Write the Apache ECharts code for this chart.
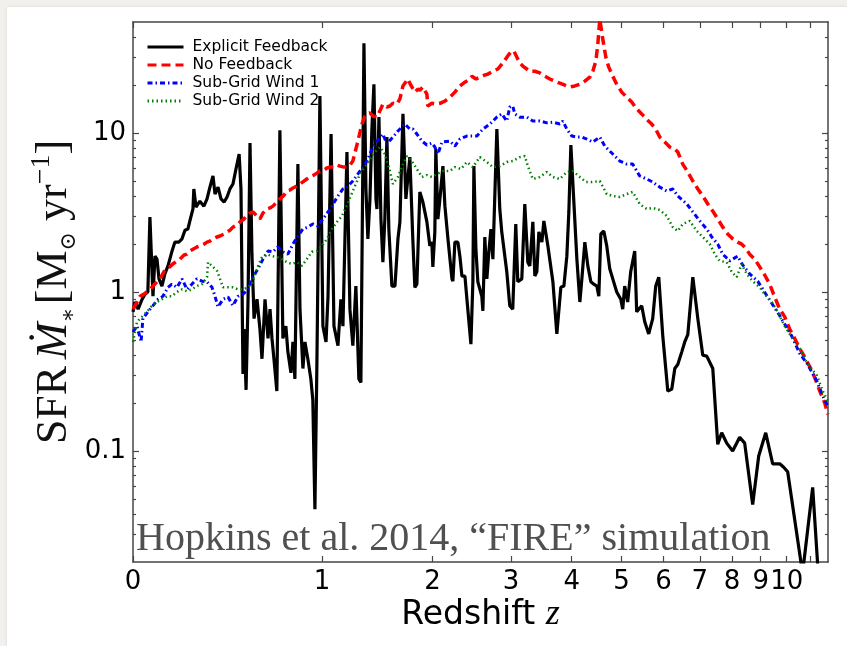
<!DOCTYPE html>
<html>
<head>
<meta charset="utf-8">
<script src="https://cdn.jsdelivr.net/npm/echarts@6/dist/echarts.min.js"></script>
<style>
  html, body { margin: 0; padding: 0; width: 847px; height: 646px; background: #f2f0ed; overflow: hidden; }
  #sheet { position: absolute; left: 7px; top: 7px; width: 840px; height: 639px; background: #fff; box-shadow: 0 0 3px rgba(0,0,0,0.10); }
  #chart { position: absolute; left: 0; top: 0; width: 847px; height: 646px; }
</style>
</head>
<body>
<div id="sheet"></div>
<div id="chart"></div>
<script>
// Star formation history of one halo under four feedback models.
// x: redshift z (drawn on a log(1+z) axis), y: SFR in Msun/yr (log axis).

const seriesNames = ['Explicit Feedback', 'No Feedback', 'Sub-Grid Wind 1', 'Sub-Grid Wind 2'];

const zExplicit = [
  0, 0.007, 0.019, 0.034, 0.045, 0.056, 0.064, 0.076, 0.084, 0.092,
  0.100, 0.112, 0.124, 0.137, 0.153, 0.166, 0.183, 0.197, 0.210, 0.223,
  0.232, 0.246, 0.250, 0.260, 0.278, 0.297, 0.312, 0.326, 0.341, 0.351,
  0.366, 0.381, 0.397, 0.412, 0.427, 0.443, 0.459, 0.476, 0.486, 0.497,
  0.503, 0.514, 0.525, 0.536, 0.547, 0.559, 0.576, 0.593, 0.605, 0.623,
  0.641, 0.653, 0.665, 0.677, 0.695, 0.714, 0.733, 0.752, 0.765, 0.785,
  0.798, 0.811, 0.831, 0.845, 0.865, 0.879, 0.899, 0.920, 0.934, 0.949,
  0.963, 0.985, 1.007, 1.030, 1.045, 1.068, 1.090, 1.121, 1.144, 1.160,
  1.192, 1.216, 1.240, 1.265, 1.290, 1.307, 1.333, 1.350, 1.367, 1.385,
  1.402, 1.420, 1.438, 1.447, 1.465, 1.483, 1.501, 1.519, 1.538, 1.556,
  1.585, 1.614, 1.643, 1.662, 1.692, 1.721, 1.761, 1.791, 1.812, 1.833,
  1.864, 1.896, 1.917, 1.939, 1.971, 1.993, 2.004, 2.026, 2.037, 2.060,
  2.083, 2.117, 2.140, 2.175, 2.222, 2.233, 2.257, 2.293, 2.317, 2.342,
  2.379, 2.404, 2.454, 2.479, 2.492, 2.518, 2.543, 2.595, 2.609, 2.635,
  2.662, 2.689, 2.717, 2.744, 2.799, 2.840, 2.868, 2.940, 2.983, 3.027,
  3.072, 3.102, 3.163, 3.209, 3.256, 3.287, 3.335, 3.367, 3.399, 3.432,
  3.481, 3.514, 3.581, 3.666, 3.734, 3.804, 3.858, 3.911, 3.947, 3.984,
  4.039, 4.095, 4.151, 4.189, 4.246, 4.304, 4.363, 4.422, 4.482, 4.522,
  4.563, 4.624, 4.685, 4.748, 4.812, 4.897, 4.985, 5.028, 5.072, 5.139,
  5.207, 5.299, 5.345, 5.463, 5.535, 5.631, 5.729, 5.804, 5.880, 5.982,
  6.112, 6.217, 6.297, 6.377, 6.486, 6.568, 6.653, 6.796, 6.940, 7.086,
  7.205, 7.388, 7.542, 7.667, 7.828, 8.023, 8.258, 8.429, 8.710, 8.927,
  9.186, 9.450, 9.723, 9.879, 10.04, 10.66, 11.10, 11.42
];
const sfrExplicit = [
  0.75, 0.865, 0.78, 0.90, 0.97, 1.0, 2.96, 0.94, 1.68, 1.61,
  1.21, 1.09, 1.30, 1.46, 1.79, 2.06, 2.06, 2.16, 2.45, 2.49,
  2.80, 3.33, 4.45, 3.42, 3.73, 3.47, 3.85, 4.57, 5.37, 4.13,
  4.57, 3.85, 3.68, 3.96, 4.45, 4.78, 5.94, 7.38, 4.45, 0.305,
  0.585, 0.242, 0.90, 8.65, 1.73, 0.68, 0.90, 0.585, 0.38, 0.90,
  0.51, 0.78, 0.51, 0.38, 0.238, 10.4, 0.51, 0.61, 0.42, 0.31,
  0.485, 0.284, 6.38, 0.78, 0.33, 0.485, 0.38, 0.284, 0.21, 0.043,
  0.34, 17.1, 0.61, 0.485, 0.94, 9.86, 0.61, 0.46, 0.90, 0.61,
  7.60, 0.78, 0.46, 1.09, 0.284, 0.27, 36.8, 4.45, 2.16, 3.85,
  10.6, 20.3, 3.85, 3.33, 12.6, 2.88, 1.54, 2.88, 9.44, 2.49,
  1.09, 1.09, 2.16, 2.76, 13.2, 3.85, 7.06, 2.16, 1.07, 1.12,
  4.26, 3.68, 3.73, 2.76, 1.95, 2.06, 1.44, 2.39, 7.93, 2.88,
  3.85, 6.20, 3.47, 2.16, 1.21, 1.17, 2.06, 2.06, 1.68, 1.26,
  1.26, 0.90, 0.47, 1.16, 6.20, 1.86, 1.16, 0.94, 0.76, 2.22,
  1.21, 1.79, 2.49, 1.61, 10.6, 3.33, 2.39, 1.34, 0.82, 0.78,
  2.68, 1.16, 1.21, 3.58, 1.54, 1.46, 2.76, 1.26, 1.34, 2.39,
  2.06, 2.80, 1.95, 1.16, 0.545, 1.07, 1.09, 1.68, 3.19, 8.41,
  3.68, 1.61, 0.865, 1.21, 2.06, 1.46, 1.16, 1.12, 1.09, 0.94,
  2.32, 2.42, 1.95, 1.40, 1.21, 1.0, 0.90, 0.78, 1.09, 0.865,
  1.34, 1.81, 0.75, 0.82, 0.65, 0.545, 0.68, 1.09, 1.24, 0.53,
  0.238, 0.245, 0.33, 0.35, 0.42, 0.485, 0.54, 1.24, 0.68, 0.40,
  0.395, 0.33, 0.11, 0.13, 0.112, 0.10, 0.122, 0.112, 0.046, 0.093,
  0.13, 0.083, 0.083, 0.079, 0.074, 0.017, 0.059, 0.012
];

const zNoFeedback = [
  0, 0.015, 0.026, 0.041, 0.052, 0.064, 0.076, 0.092, 0.104, 0.120,
  0.132, 0.145, 0.157, 0.175, 0.188, 0.206, 0.219, 0.232, 0.246, 0.264,
  0.278, 0.297, 0.312, 0.326, 0.341, 0.361, 0.376, 0.397, 0.412, 0.427,
  0.443, 0.465, 0.481, 0.503, 0.519, 0.536, 0.553, 0.576, 0.593, 0.611,
  0.635, 0.653, 0.671, 0.695, 0.714, 0.740, 0.759, 0.778, 0.798, 0.825,
  0.845, 0.872, 0.892, 0.913, 0.941, 0.963, 0.985, 1.015, 1.037, 1.060,
  1.090, 1.113, 1.136, 1.168, 1.192, 1.216, 1.240, 1.265, 1.282, 1.299,
  1.316, 1.341, 1.359, 1.385, 1.411, 1.447, 1.474, 1.501, 1.538, 1.566,
  1.594, 1.633, 1.662, 1.692, 1.711, 1.741, 1.771, 1.791, 1.812, 1.843,
  1.864, 1.896, 1.917, 1.939, 1.949, 1.993, 2.037, 2.083, 2.140, 2.198,
  2.257, 2.317, 2.379, 2.441, 2.467, 2.518, 2.569, 2.635, 2.676, 2.744,
  2.812, 2.883, 2.954, 2.998, 3.042, 3.087, 3.132, 3.178, 3.240, 3.287,
  3.367, 3.448, 3.531, 3.614, 3.700, 3.786, 3.876, 3.965, 4.057, 4.151,
  4.246, 4.343, 4.402, 4.462, 4.502, 4.542, 4.603, 4.665, 4.727, 4.812,
  4.897, 5.007, 5.117, 5.230, 5.345, 5.463, 5.583, 5.704, 5.804, 5.905,
  6.034, 6.164, 6.297, 6.377, 6.513, 6.653, 6.796, 6.940, 7.086, 7.236,
  7.388, 7.542, 7.700, 7.860, 8.023, 8.190, 8.326, 8.464, 8.603, 8.782,
  8.963, 9.148, 9.335, 9.527, 9.723, 9.918, 10.12, 10.33, 10.54, 10.75,
  10.97, 11.19, 11.42, 11.65, 11.79
];
const sfrNoFeedback = [
  0.78, 0.865, 0.94, 0.97, 1.0, 1.04, 1.09, 1.16, 1.21, 1.34,
  1.40, 1.44, 1.50, 1.57, 1.61, 1.71, 1.73, 1.81, 1.86, 1.92,
  1.95, 2.00, 2.06, 2.09, 2.16, 2.22, 2.25, 2.32, 2.39, 2.45,
  2.56, 2.64, 2.76, 2.88, 3.05, 3.14, 3.19, 3.01, 2.88, 3.14,
  3.33, 3.38, 3.47, 3.68, 3.85, 4.07, 4.32, 4.38, 4.51, 4.64,
  4.78, 4.99, 5.14, 5.29, 5.44, 5.60, 5.77, 5.85, 6.03, 6.11,
  6.11, 6.29, 6.20, 6.11, 6.11, 6.29, 6.67, 7.93, 8.91, 10.1,
  11.4, 12.8, 13.2, 13.4, 12.8, 12.6, 13.8, 15.2, 14.6, 14.8,
  15.4, 15.2, 16.4, 19.8, 20.3, 21.9, 20.0, 19.5, 18.1, 18.9,
  18.6, 19.5, 19.8, 17.6, 14.8, 15.4, 15.2, 15.4, 15.9, 16.8,
  18.1, 19.8, 20.9, 21.9, 22.8, 21.9, 22.5, 23.2, 23.5, 24.5,
  25.3, 27.6, 30.6, 32.3, 32.9, 30.1, 27.6, 26.4, 25.3, 24.5,
  24.5, 23.9, 22.8, 21.9, 21.2, 20.6, 20.0, 19.5, 19.8, 20.3,
  21.2, 22.5, 24.5, 28.4, 36.3, 52.1, 39.0, 30.1, 26.0, 22.8,
  20.3, 18.1, 16.8, 15.7, 14.2, 13.2, 12.2, 11.4, 10.6, 9.44,
  8.78, 8.17, 7.93, 7.60, 6.38, 5.69, 4.99, 4.45, 4.02, 3.58,
  3.23, 2.88, 2.56, 2.32, 2.16, 2.06, 2.00, 1.89, 1.73, 1.61,
  1.44, 1.28, 1.12, 0.93, 0.78, 0.70, 0.585, 0.51, 0.44, 0.39,
  0.34, 0.29, 0.238, 0.20, 0.17
];

const zWind1 = [
  0, 0.015, 0.030, 0.037, 0.056, 0.076, 0.096, 0.116, 0.137, 0.153,
  0.175, 0.197, 0.219, 0.241, 0.264, 0.288, 0.312, 0.336, 0.351, 0.366,
  0.391, 0.417, 0.443, 0.470, 0.497, 0.525, 0.553, 0.582, 0.611, 0.641,
  0.671, 0.701, 0.733, 0.765, 0.798, 0.831, 0.865, 0.899, 0.934, 0.970,
  1.007, 1.045, 1.083, 1.121, 1.160, 1.192, 1.240, 1.299, 1.359, 1.411,
  1.447, 1.501, 1.538, 1.594, 1.643, 1.711, 1.761, 1.791, 1.833, 1.886,
  1.939, 1.993, 2.026, 2.060, 2.106, 2.198, 2.257, 2.317, 2.404, 2.531,
  2.609, 2.703, 2.799, 2.868, 2.940, 2.983, 3.027, 3.057, 3.132, 3.240,
  3.335, 3.448, 3.564, 3.666, 3.786, 3.840, 3.911, 4.002, 4.095, 4.189,
  4.285, 4.402, 4.542, 4.644, 4.812, 4.963, 5.117, 5.253, 5.415, 5.583,
  5.729, 5.905, 6.086, 6.244, 6.377, 6.625, 6.796, 6.998, 7.205, 7.357,
  7.542, 7.700, 7.924, 8.190, 8.360, 8.603, 8.890, 9.261, 9.723, 10.20,
  10.54, 10.88, 11.28, 11.56, 11.79
];
const sfrWind1 = [
  0.56, 0.61, 0.485, 0.68, 0.75, 0.82, 0.90, 0.94, 1.07, 1.12,
  1.07, 1.21, 1.04, 1.12, 1.21, 1.17, 1.16, 1.07, 0.94, 0.805,
  0.90, 0.93, 0.82, 0.94, 0.97, 1.04, 1.24, 1.40, 1.61, 1.81,
  1.79, 1.92, 1.79, 1.73, 2.00, 2.25, 2.49, 2.56, 2.68, 2.60,
  2.88, 3.19, 3.58, 4.02, 4.45, 4.57, 4.99, 5.77, 6.67, 8.17,
  8.91, 9.86, 8.53, 9.44, 10.3, 11.4, 10.6, 10.6, 9.86, 8.91,
  8.41, 8.65, 8.17, 7.38, 8.78, 8.91, 8.28, 9.17, 9.58, 9.58,
  10.6, 11.4, 12.6, 13.2, 11.9, 14.6, 14.8, 13.2, 12.6, 12.6,
  11.9, 11.9, 11.6, 11.7, 11.4, 11.9, 10.6, 9.58, 9.44, 9.44,
  9.17, 8.78, 9.44, 8.28, 7.38, 6.67, 6.38, 6.38, 5.37, 5.14,
  4.92, 4.57, 4.32, 4.45, 4.02, 3.58, 3.19, 2.80, 2.49, 2.22,
  2.00, 1.73, 1.57, 1.68, 1.48, 1.30, 1.17, 0.93, 0.71, 0.53,
  0.41, 0.35, 0.276, 0.222, 0.19
];

const zWind2 = [
  0, 0.015, 0.034, 0.052, 0.072, 0.092, 0.112, 0.132, 0.153, 0.175,
  0.197, 0.219, 0.241, 0.264, 0.288, 0.312, 0.317, 0.336, 0.361, 0.376,
  0.391, 0.417, 0.443, 0.470, 0.497, 0.525, 0.547, 0.576, 0.605, 0.635,
  0.665, 0.695, 0.727, 0.759, 0.791, 0.825, 0.858, 0.892, 0.927, 0.963,
  1.000, 1.037, 1.075, 1.113, 1.152, 1.192, 1.240, 1.299, 1.359, 1.411,
  1.474, 1.519, 1.566, 1.594, 1.643, 1.692, 1.731, 1.781, 1.833, 1.886,
  1.939, 1.993, 2.048, 2.117, 2.198, 2.257, 2.330, 2.404, 2.479, 2.569,
  2.662, 2.744, 2.840, 2.940, 3.027, 3.132, 3.209, 3.256, 3.335, 3.448,
  3.564, 3.666, 3.786, 3.911, 4.020, 4.151, 4.266, 4.383, 4.542, 4.685,
  4.812, 4.963, 5.117, 5.253, 5.415, 5.583, 5.729, 5.905, 6.086, 6.244,
  6.377, 6.513, 6.710, 6.911, 7.086, 7.296, 7.450, 7.604, 7.828, 7.990,
  8.157, 8.326, 8.498, 8.710, 8.963, 9.148, 9.412, 9.645, 9.918, 10.24,
  10.54, 10.88, 11.28, 11.56, 11.79
];
const sfrWind2 = [
  0.485, 0.65, 0.70, 0.75, 0.82, 0.865, 0.90, 0.94, 0.94, 1.0,
  1.04, 1.01, 1.04, 1.09, 1.12, 1.24, 1.54, 1.46, 1.36, 1.21,
  1.07, 1.07, 1.07, 1.04, 1.04, 1.07, 1.12, 1.40, 1.66, 1.73,
  1.68, 1.66, 1.61, 1.54, 1.50, 1.54, 1.46, 1.61, 1.79, 1.81,
  1.95, 2.16, 2.49, 2.76, 3.01, 3.52, 4.32, 5.52, 6.38, 7.38,
  8.17, 7.38, 5.77, 4.78, 5.29, 6.38, 7.17, 6.67, 5.94, 5.29,
  5.44, 5.29, 5.52, 5.77, 5.77, 6.11, 5.94, 6.57, 6.11, 7.06,
  6.57, 6.11, 6.20, 6.57, 6.67, 7.06, 7.17, 6.20, 5.14, 5.29,
  5.69, 5.29, 5.14, 5.69, 5.77, 5.29, 4.92, 4.92, 4.99, 4.13,
  4.02, 3.96, 4.13, 4.26, 3.58, 3.33, 3.38, 3.28, 3.01, 2.56,
  2.42, 2.68, 2.80, 2.42, 2.22, 2.00, 1.73, 1.57, 1.54, 1.34,
  1.24, 1.50, 1.30, 1.17, 1.07, 0.97, 0.865, 0.75, 0.61, 0.51,
  0.44, 0.35, 0.30, 0.238, 0.206
];

// Axis ticks
const zTickValues = [0, 1, 2, 3, 4, 5, 6, 7, 8, 9, 10, 11];
const zTickLabels = ['0', '1', '2', '3', '4', '5', '6', '7', '8', '9', '10'];
const sfrMajorTicks = [0.1, 1, 10];
const sfrMajorLabels = ['0.1', '1', '10'];
const sfrMinorTicks = [0.03, 0.04, 0.05, 0.06, 0.07, 0.08, 0.09,
  0.2, 0.3, 0.4, 0.5, 0.6, 0.7, 0.8, 0.9,
  2, 3, 4, 5, 6, 7, 8, 9, 20, 30, 40];

const X_MAX = 12.8;   // upper end of the 1+z axis
const Y_MIN = 0.02, Y_MAX = 50;

const frameColor = '#464646';
const tickFont = { fontFamily: 'DejaVu Sans', fontSize: 26, color: '#000' };

function pairs(zs, vs) { return zs.map((z, i) => [1 + z, vs[i]]); }

function xAxisCfg(position, labelled) {
  return {
    type: 'log', logBase: 10, position: position, min: 1, max: X_MAX,
    axisLine: { show: true, onZero: false, lineStyle: { color: frameColor, width: 1.5 } },
    axisTick: { show: true, inside: true, length: 6, customValues: zTickValues.map(z => 1 + z),
      lineStyle: { color: frameColor, width: 1.2 } },
    axisLabel: { show: labelled, customValues: zTickLabels.map(t => 1 + Number(t)),
      formatter: v => zTickLabels[Math.round(v - 1)], margin: 7, ...tickFont },
    splitLine: { show: false }, minorTick: { show: false }, minorSplitLine: { show: false }
  };
}

function yAxisCfg(position, ticks, len, labelled, line) {
  return {
    type: 'log', logBase: 10, position: position, min: Y_MIN, max: Y_MAX,
    axisLine: { show: line, onZero: false, lineStyle: { color: frameColor, width: 1.5 } },
    axisTick: { show: true, inside: true, length: len, customValues: ticks,
      lineStyle: { color: frameColor, width: 1.2 } },
    axisLabel: { show: labelled, customValues: sfrMajorTicks,
      formatter: v => sfrMajorLabels[sfrMajorTicks.findIndex(t => Math.abs(t - v) / t < 1e-6)] || '',
      margin: 7, ...tickFont },
    splitLine: { show: false }, minorTick: { show: false }, minorSplitLine: { show: false }
  };
}

const xBottom = xAxisCfg('bottom', true);
xBottom.name = '{a|Redshift }{b|z}';
xBottom.nameLocation = 'middle';
xBottom.nameGap = 35;
xBottom.nameMoveOverlap = false;
xBottom.nameTextStyle = { rich: {
  a: { fontFamily: 'DejaVu Sans', fontSize: 33, color: '#000' },
  b: { fontFamily: 'Liberation Serif', fontStyle: 'italic', fontSize: 36, color: '#000' }
} };

const yLeft = yAxisCfg('left', sfrMajorTicks, 6, true, true);
yLeft.name = '{r|SFR}  {m|Ṁ}{s|∗} {r|[M}{s|⊙}{r| yr}{p|−1}{r|]}';
yLeft.nameLocation = 'middle';
yLeft.nameRotate = 90;
yLeft.nameGap = 53;
yLeft.nameMoveOverlap = false;
yLeft.nameTextStyle = { rich: {
  r: { fontFamily: 'Liberation Serif', fontSize: 44, color: '#111', lineHeight: 52 },
  m: { fontFamily: 'Liberation Serif', fontStyle: 'italic', fontSize: 44, color: '#111', lineHeight: 52 },
  s: { fontFamily: 'DejaVu Serif', fontSize: 22, color: '#111', verticalAlign: 'bottom' },
  p: { fontFamily: 'Liberation Serif', fontSize: 28, color: '#111', verticalAlign: 'top' }
} };

const chart = echarts.init(document.getElementById('chart'), null, { renderer: 'canvas' });

chart.setOption({
  animation: false,
  backgroundColor: 'transparent',
  grid: { left: 133, right: 19, top: 22, bottom: 84 },
  legend: {
    orient: 'vertical', left: 141, top: 34, itemWidth: 36, itemHeight: 14, itemGap: 2,
    selectedMode: false, data: seriesNames,
    itemStyle: { opacity: 0 },
    lineStyle: { width: 3 },
    textStyle: { fontFamily: 'DejaVu Sans', fontSize: 15.5, color: '#000', padding: [0, 0, 0, 4] }
  },
  xAxis: [xBottom, xAxisCfg('top', false)],
  yAxis: [
    yLeft,
    yAxisCfg('left', sfrMinorTicks, 3, false, false),
    yAxisCfg('right', sfrMajorTicks, 6, false, true),
    yAxisCfg('right', sfrMinorTicks, 3, false, false)
  ],
  graphic: [{
    type: 'text', left: 136, top: 519, z: 50,
    style: { text: 'Hopkins et al. 2014, “FIRE” simulation', font: '40px "Liberation Serif"', fill: '#505050' }
  }],
  series: [
    { name: seriesNames[0], type: 'line', symbol: 'none', data: pairs(zExplicit, sfrExplicit),
      lineStyle: { color: '#000', width: 3.2 }, itemStyle: { color: '#000' } },
    { name: seriesNames[1], type: 'line', symbol: 'none', data: pairs(zNoFeedback, sfrNoFeedback),
      lineStyle: { color: '#ff0000', width: 3.5, type: [9, 5] }, itemStyle: { color: '#ff0000' } },
    { name: seriesNames[2], type: 'line', symbol: 'none', data: pairs(zWind1, sfrWind1),
      lineStyle: { color: '#0000ff', width: 3, type: [5, 3, 1.5, 3] }, itemStyle: { color: '#0000ff' } },
    { name: seriesNames[3], type: 'line', symbol: 'none', data: pairs(zWind2, sfrWind2),
      lineStyle: { color: '#008000', width: 2.5, type: [1.5, 3] }, itemStyle: { color: '#008000' } }
  ]
});
</script>
</body>
</html>
